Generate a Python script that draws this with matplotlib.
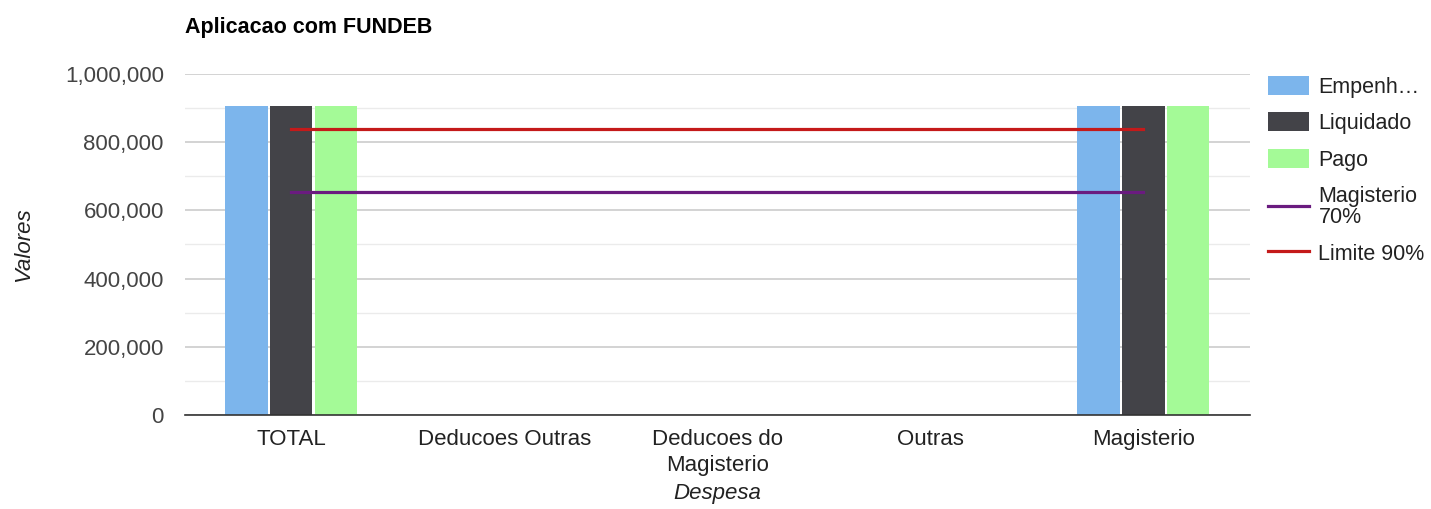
import numpy as np
import matplotlib.pyplot as plt
from matplotlib.ticker import MultipleLocator, FuncFormatter

plt.rcParams['font.family'] = ['Liberation Sans', 'DejaVu Sans']

# Data
categorias = ['TOTAL', 'Deducoes Outras', 'Deducoes do\nMagisterio', 'Outras', 'Magisterio']
empenhado = [906000, 1000, 1000, 1000, 906000]
liquidado = [906000, 1000, 1000, 1000, 906000]
pago = [906000, 1000, 1000, 1000, 906000]
magisterio_70 = [654000, 654000, 654000, 654000, 654000]
limite_90 = [840000, 840000, 840000, 840000, 840000]
series_nomes = ['Empenh…', 'Liquidado', 'Pago', 'Magisterio\n70%', 'Limite 90%']

cores = ['#7cb5ec', '#434348', '#a4fa97']
cor_mag = '#6a1b7f'
cor_lim = '#c41a1a'

fig = plt.figure(figsize=(14.31, 5.09), dpi=100)
ax = fig.add_axes([0.129, 0.1847, 0.7445, 0.67])

x = np.arange(len(categorias))
w = 0.2
gap = 0.01
bars = []
for i, (vals, c) in enumerate(zip([empenhado, liquidado, pago], cores)):
    b = ax.bar(x + (i - 1) * (w + gap), vals, width=w, color=c, zorder=3)
    bars.append(b)

l1, = ax.plot(x, magisterio_70, color=cor_mag, lw=2.3, zorder=4)
l2, = ax.plot(x, limite_90, color=cor_lim, lw=2.3, zorder=4)

ax.set_xlim(-0.5, 4.5)
ax.set_ylim(0, 1000000)
ax.yaxis.set_major_locator(MultipleLocator(200000))
ax.yaxis.set_minor_locator(MultipleLocator(100000))
ax.yaxis.set_major_formatter(FuncFormatter(lambda v, p: f'{int(v):,}'))
ax.grid(axis='y', which='major', color='#cccccc', lw=1.2, zorder=0)
ax.grid(axis='y', which='minor', color='#ebebeb', lw=1.0, zorder=0)
for s in ['top', 'right', 'left']:
    ax.spines[s].set_visible(False)
ax.spines['bottom'].set_color('#333333')
ax.spines['bottom'].set_linewidth(1.2)
ax.spines['bottom'].set_zorder(5)
ax.tick_params(axis='both', which='both', length=0, labelsize=16, colors='#444444')
ax.tick_params(axis='y', pad=15)
ax.tick_params(axis='x', pad=10)
ax.set_xticks(x)
ax.set_xticklabels(categorias, color='#222222', linespacing=1.35)

ax.set_ylabel('Valores', fontstyle='italic', fontsize=16, color='#222222', labelpad=22)
ax.set_xlabel('Despesa', fontstyle='italic', fontsize=16, color='#222222', labelpad=5)

fig.text(0.129, 0.935, 'Aplicacao com FUNDEB', fontsize=15.5, fontweight='bold', color='#000000')

handles = [bars[0], bars[1], bars[2], l1, l2]
leg = fig.legend(handles, series_nomes, loc='upper left', bbox_to_anchor=(0.883, 0.86),
                 frameon=False, fontsize=15.5, handlelength=1.9, handleheight=1.0,
                 labelspacing=0.68, handletextpad=0.45, borderpad=0.2, borderaxespad=0,
                 labelcolor='#222222')
for t in leg.get_texts():
    t.set_linespacing(1.05)

plt.savefig('out.png', dpi=100)
